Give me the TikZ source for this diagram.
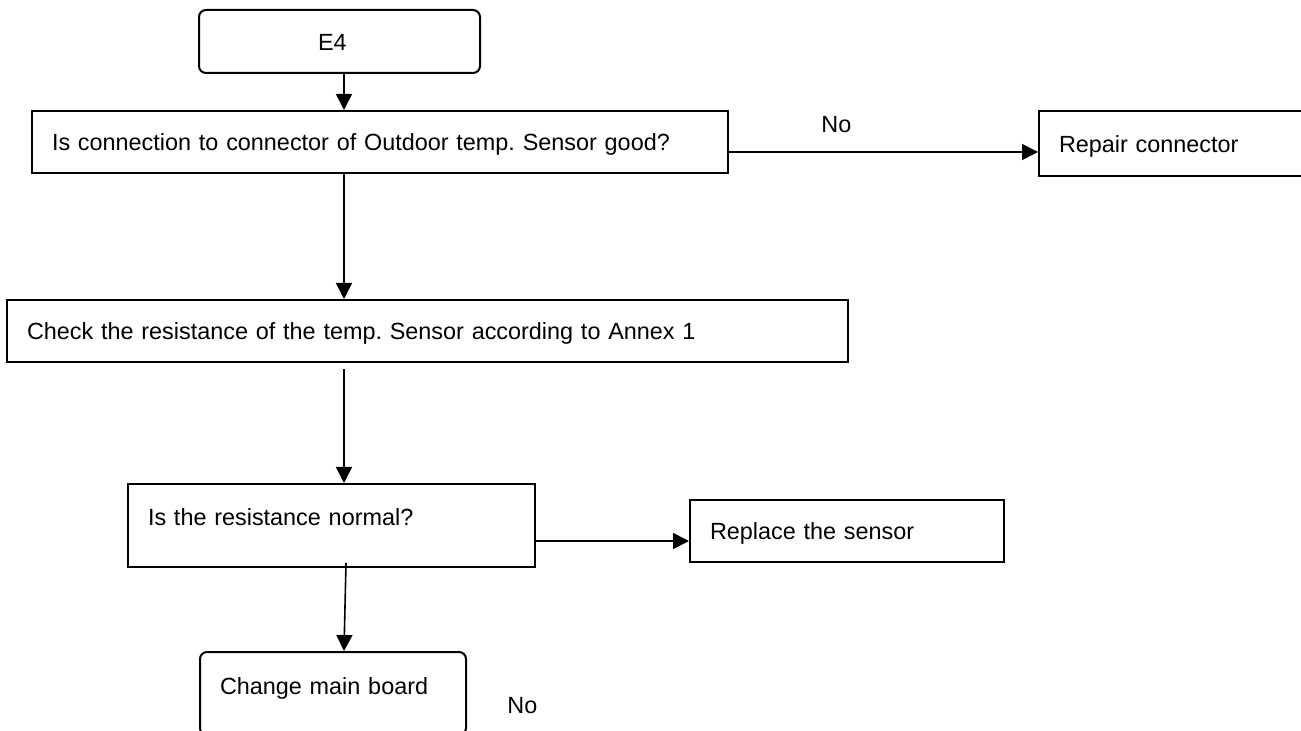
\documentclass[tikz,border=0pt]{standalone}
\usepackage{fontspec}
\setmainfont{Liberation Sans}
\usetikzlibrary{calc,arrows.meta}
\frenchspacing

\tikzset{
  stepbox/.style={draw,line width=1pt,rectangle,align=left,inner xsep=10pt,
    inner ysep=0pt,text height=9pt,text depth=0pt,
    font=\fontsize{11.7}{14}\selectfont},
  endbox/.style={stepbox,rounded corners=3.5pt},
  tallbox/.style={text depth=8.5pt},
  flow/.style={line width=0.8pt,-{Triangle[length=8pt,width=8pt]}},
  lbl/.style={anchor=base west,inner sep=0pt,font=\fontsize{11.7}{14}\selectfont}
}

\begin{document}
\begin{tikzpicture}[x=0.5pt,y=-0.5pt]
  \clip (0,0) rectangle (1301,731);
  \coordinate (spine) at (344,0);
  % Boxes
  \node [endbox,text width=120.5pt,minimum height=31.5pt] (start)
    at (339.5,41.5) {\hspace*{49.5pt}E4};
  \node [stepbox,text width=328pt,minimum height=31pt] (q1) at (380,142)
    {Is connection to connector of Outdoor temp. Sensor good?};
  \node [stepbox,text width=130.5pt,minimum height=32.5pt] (repair)
    at (1189.5,143.5) {Repair connector};
  \node [stepbox,text width=400.5pt,minimum height=31pt] (check) at (427.5,331)
    {Check the resistance of the temp. Sensor according to Annex 1};
  \node [stepbox,tallbox,text width=183.5pt,minimum height=41.5pt] (q2)
    at (331.5,525.5) {Is the resistance normal?};
  \node [stepbox,text width=137pt,minimum height=31pt] (replace) at (847,531)
    {Replace the sensor};
  \node [endbox,tallbox,text width=113pt,minimum height=41.5pt] (change)
    at (333,693.5) {Change main board};
  % Down the left side
  \draw [flow] (start.south -| spine) -- (q1.north -| spine);
  \draw [flow] (q1.south -| spine) -- (check.north -| spine);
  \draw [flow] ($(check.south -| spine)+(0,6)$) -- (q2.north -| spine);
  \draw [flow] ($(q2.south -| spine)+(2,-5)$) -- (change.north -| spine);
  % To the right
  \coordinate (noA) at ($(q1.east)+(0,10)$);
  \draw [flow] (noA) -- (noA -| repair.west);
  \coordinate (noB) at ($(q2.east)+(0,15.5)$);
  \draw [flow] (noB) -- (noB -| replace.west);
  \node [lbl] (no1) at (821,133) {No};
  \node [lbl] (no2) at (507,713) {No};
\end{tikzpicture}
\end{document}
